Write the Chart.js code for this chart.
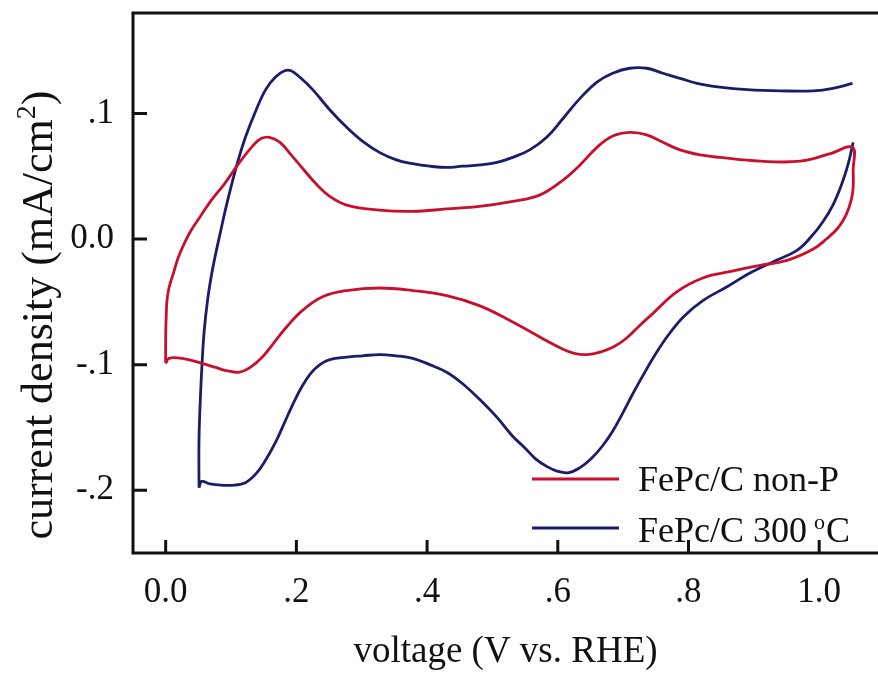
<!DOCTYPE html>
<html>
<head>
<meta charset="utf-8">
<title>FePc/C cyclic voltammetry</title>
<script src="https://cdn.jsdelivr.net/npm/chart.js"></script>
<style>
    html, body {
        margin: 0;
        padding: 0;
        background: #ffffff;
        overflow: hidden;
    }
    #wrap {
        width: 878px;
        height: 674px;
    }
</style>
</head>
<body>
<div id="wrap"><canvas id="cv" width="878" height="674"></canvas></div>
<script>
// axis ticks
const xTicks = [0, 0.2, 0.4, 0.6, 0.8, 1.0];
const xTickLabels = ['0.0', '.2', '.4', '.6', '.8', '1.0'];
const yTicks = [-0.2, -0.1, 0, 0.1];
const yTickLabels = ['-.2', '-.1', '0.0', '.1'];

const seriesNames = ['FePc/C non-P', 'FePc/C 300 ', 'o', 'C'];

// FePc/C non-P : forward sweep then reverse sweep (V vs RHE, mA/cm2)
const redV = [0.000, 0.000, 0.001, 0.002, 0.005, 0.012, 0.019, 0.028, 0.039, 0.053,
    0.070, 0.090, 0.113, 0.133, 0.146, 0.159, 0.175, 0.192, 0.210, 0.230,
    0.251, 0.277, 0.327, 0.378, 0.430, 0.480, 0.531, 0.572, 0.608, 0.634,
    0.660, 0.684, 0.710, 0.736, 0.761, 0.787, 0.818, 0.848, 0.910, 0.971,
    1.017, 1.051, 1.052, 1.052, 1.049, 1.041, 1.029, 1.011, 0.991, 0.951,
    0.910, 0.863, 0.822, 0.782, 0.746, 0.725, 0.705, 0.685, 0.665, 0.645,
    0.625, 0.605, 0.583, 0.531, 0.480, 0.430, 0.378, 0.327, 0.277, 0.240,
    0.209, 0.185, 0.165, 0.148, 0.130, 0.113, 0.095, 0.075, 0.056, 0.025,
    0.005, 0.000];
const redJ = [-0.099, -0.077, -0.059, -0.049, -0.039, -0.027, -0.015, -0.004, 0.007, 0.018,
    0.031, 0.044, 0.061, 0.074, 0.080, 0.081, 0.077, 0.067, 0.056, 0.044,
    0.034, 0.027, 0.023, 0.022, 0.024, 0.026, 0.030, 0.035, 0.047, 0.059,
    0.073, 0.082, 0.085, 0.083, 0.077, 0.071, 0.067, 0.065, 0.062, 0.062,
    0.068, 0.073, 0.055, 0.041, 0.031, 0.019, 0.009, 0.000, -0.008, -0.017,
    -0.021, -0.026, -0.031, -0.042, -0.059, -0.069, -0.079, -0.086, -0.090, -0.092,
    -0.091, -0.087, -0.081, -0.066, -0.053, -0.045, -0.041, -0.039, -0.041, -0.046,
    -0.057, -0.070, -0.083, -0.094, -0.102, -0.106, -0.105, -0.102, -0.099, -0.095,
    -0.095, -0.099];

// FePc/C 300 oC (null = break in the trace at the upper vertex)
const blueV = [0.051, 0.051, 0.053, 0.056, 0.059, 0.064, 0.070, 0.076, 0.084, 0.094,
    0.110, 0.122, 0.137, 0.153, 0.168, 0.182, 0.192, 0.205, 0.225, 0.251,
    0.277, 0.301, 0.327, 0.353, 0.378, 0.404, 0.430, 0.454, 0.481, 0.507,
    0.531, 0.557, 0.583, 0.608, 0.634, 0.660, 0.684, 0.710, 0.736, 0.761,
    0.787, 0.813, 0.848, 0.890, 0.940, 0.991, 1.021, 1.051, 1.051, 1.052,
    1.044, 1.034, 1.021, 1.006, 0.988, 0.966, 0.930, 0.894, 0.859, 0.822,
    0.792, 0.767, 0.748, 0.730, 0.714, 0.699, 0.684, 0.668, 0.651, 0.634,
    0.617, 0.600, 0.583, 0.566, 0.549, 0.531, 0.507, 0.481, 0.454, 0.430,
    0.404, 0.378, 0.353, 0.327, 0.301, 0.277, 0.251, 0.236, 0.222, 0.209,
    0.196, 0.182, 0.168, 0.153, 0.138, 0.122, 0.105, 0.085, 0.068, 0.055,
    0.051];
const blueJ = [-0.198, -0.160, -0.128, -0.096, -0.073, -0.049, -0.029, -0.013, 0.006, 0.029,
    0.061, 0.081, 0.101, 0.119, 0.129, 0.134, 0.134, 0.129, 0.119, 0.103,
    0.089, 0.078, 0.069, 0.063, 0.060, 0.058, 0.057, 0.058, 0.059, 0.061,
    0.065, 0.071, 0.081, 0.096, 0.112, 0.125, 0.132, 0.136, 0.136, 0.132,
    0.128, 0.124, 0.121, 0.119, 0.118, 0.118, 0.120, 0.124, null, 0.077,
    0.059, 0.043, 0.027, 0.014, 0.002, -0.009, -0.018, -0.027, -0.038, -0.049,
    -0.062, -0.078, -0.093, -0.109, -0.124, -0.139, -0.153, -0.165, -0.175, -0.182,
    -0.186, -0.185, -0.181, -0.175, -0.166, -0.157, -0.142, -0.128, -0.115, -0.106,
    -0.100, -0.095, -0.093, -0.092, -0.093, -0.094, -0.096, -0.100, -0.107, -0.117,
    -0.130, -0.146, -0.162, -0.176, -0.187, -0.194, -0.196, -0.196, -0.195, -0.193,
    -0.198];

const RED = '#c8102e';
const BLUE = '#1c1d68';
const INK = '#111111';
const SERIF = '"Liberation Serif", "DejaVu Serif", serif';

function pts(xs, ys) {
    return xs.map((v, i) => ({ x: v, y: ys[i] }));
}

// frame, inward ticks, y title and legend
const overlay = {
    id: 'overlay',
    afterDraw(chart) {
        const { ctx, chartArea: a, scales: { x, y } } = chart;
        ctx.save();
        ctx.strokeStyle = INK;
        ctx.lineWidth = 3;
        ctx.lineJoin = 'miter';
        ctx.beginPath();
        ctx.moveTo(a.left, a.bottom);
        ctx.lineTo(a.left, a.top);
        ctx.lineTo(a.right, a.top);
        ctx.moveTo(a.left - 1.5, a.bottom);
        ctx.lineTo(a.right, a.bottom);
        xTicks.forEach(v => {
            const px = x.getPixelForValue(v);
            ctx.moveTo(px, a.bottom);
            ctx.lineTo(px, a.bottom - 13);
        });
        yTicks.forEach(v => {
            const py = y.getPixelForValue(v);
            ctx.moveTo(a.left, py);
            ctx.lineTo(a.left + 14, py);
        });
        ctx.stroke();

        // y axis title with superscript 2
        ctx.fillStyle = INK;
        ctx.translate(52, 315);
        ctx.rotate(-Math.PI / 2);
        ctx.textBaseline = 'alphabetic';
        const big = '44px ' + SERIF, small = '28px ' + SERIF;
        const t1 = 'current density (mA/cm', t2 = '2', t3 = ')';
        ctx.font = big;
        const w1 = ctx.measureText(t1).width, w3 = ctx.measureText(t3).width;
        ctx.font = small;
        const w2 = ctx.measureText(t2).width;
        let sx = -(w1 + w2 + w3) / 2;
        ctx.font = big;
        ctx.fillText(t1, sx, 0);
        ctx.font = small;
        ctx.fillText(t2, sx + w1, -17);
        ctx.font = big;
        ctx.fillText(t3, sx + w1 + w2, 0);
        ctx.restore();

        // legend
        ctx.save();
        ctx.lineWidth = 2.8;
        ctx.strokeStyle = RED;
        ctx.beginPath();
        ctx.moveTo(532, 479);
        ctx.lineTo(619, 479);
        ctx.stroke();
        ctx.strokeStyle = BLUE;
        ctx.beginPath();
        ctx.moveTo(532, 528);
        ctx.lineTo(619, 528);
        ctx.stroke();
        ctx.fillStyle = INK;
        ctx.textBaseline = 'alphabetic';
        ctx.font = '36px ' + SERIF;
        ctx.fillText(seriesNames[0], 638, 491);
        ctx.fillText(seriesNames[1], 638, 542);
        let lx = 638 + ctx.measureText(seriesNames[1]).width;
        ctx.font = '22px ' + SERIF;
        ctx.fillText(seriesNames[2], lx - 2, 529);
        lx += ctx.measureText(seriesNames[2]).width - 1;
        ctx.font = '36px ' + SERIF;
        ctx.fillText(seriesNames[3], lx, 542);
        ctx.restore();
    }
};

new Chart(document.getElementById('cv'), {
    type: 'scatter',
    data: {
        datasets: [{
            label: 'FePc/C non-P',
            data: pts(redV, redJ),
            showLine: true,
            borderColor: RED,
            borderWidth: 2.8,
            pointRadius: 0,
            tension: 0.4,
            spanGaps: false
        }, {
            label: 'FePc/C 300 oC',
            data: pts(blueV, blueJ),
            showLine: true,
            borderColor: BLUE,
            borderWidth: 2.8,
            pointRadius: 0,
            tension: 0.4,
            spanGaps: false
        }]
    },
    options: {
        responsive: false,
        animation: false,
        layout: { padding: { top: 13, left: 0, right: 0, bottom: 0 } },
        plugins: {
            legend: { display: false },
            tooltip: { enabled: false }
        },
        scales: {
            x: {
                type: 'linear',
                min: -0.05,
                max: 1.09,
                afterBuildTicks: s => { s.ticks = xTicks.map(v => ({ value: v })); },
                afterFit: s => { s.height = 121; s.paddingLeft = 0; s.paddingRight = 0; },
                grid: { display: false, drawTicks: false },
                border: { display: false },
                ticks: {
                    color: INK,
                    padding: 19,
                    maxRotation: 0,
                    font: { family: SERIF, size: 35 },
                    callback: (v, i) => xTickLabels[i]
                },
                title: {
                    display: true,
                    text: 'voltage (V vs. RHE)',
                    color: INK,
                    padding: 0,
                    font: { family: SERIF, size: 37 }
                }
            },
            y: {
                type: 'linear',
                min: -0.25,
                max: 0.18,
                afterBuildTicks: s => { s.ticks = yTicks.map(v => ({ value: v })); },
                afterFit: s => { s.width = 133; s.paddingTop = 0; s.paddingBottom = 0; },
                grid: { display: false, drawTicks: false },
                border: { display: false },
                ticks: {
                    color: INK,
                    padding: 19,
                    font: { family: SERIF, size: 35 },
                    callback: (v, i) => yTickLabels[i]
                }
            }
        }
    },
    plugins: [overlay]
});
</script>
</body>
</html>
